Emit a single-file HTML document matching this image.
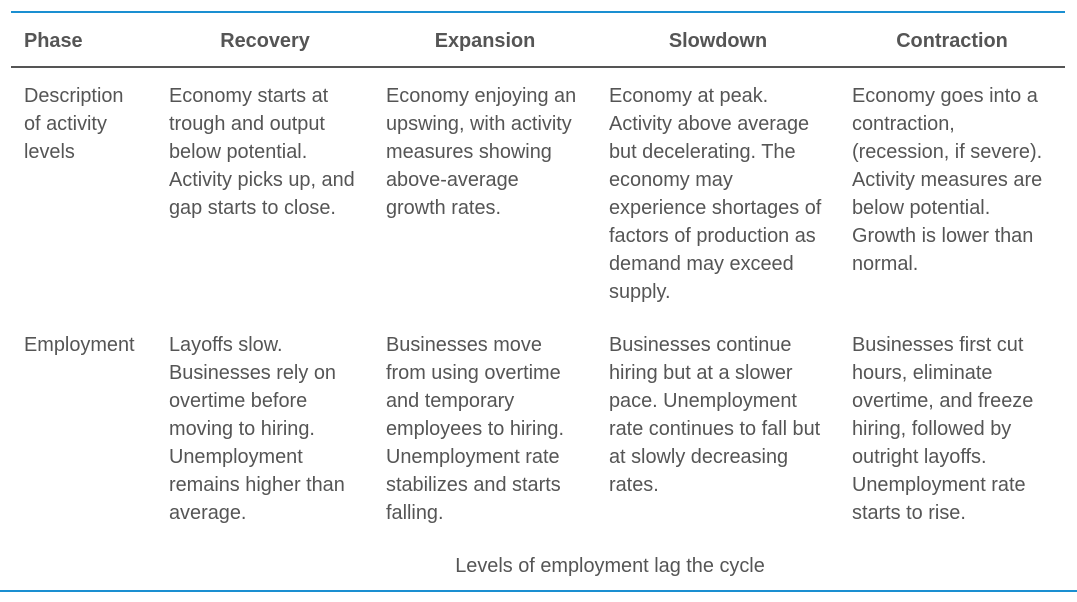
<!DOCTYPE html>
<html><head><meta charset="utf-8"><style>
body{margin:0;width:1077px;height:602px;background:#fff;position:relative;font-family:"Liberation Sans",sans-serif;color:#555;overflow:hidden}
.a{position:absolute;font-size:19.9px;line-height:28px;white-space:nowrap}
.h{font-weight:bold;top:27px}
.c{text-align:center}
.ln{position:absolute}
</style></head><body>
<div class="ln" style="left:11px;top:11px;width:1054px;height:2px;background:#1a8fd1"></div>
<div class="ln" style="left:11px;top:66px;width:1054px;height:2px;background:#555"></div>
<div class="ln" style="left:0;top:590px;width:1077px;height:2px;background:#1a8fd1"></div>

<div class="a h" style="left:24px">Phase</div>
<div class="a h c" style="left:165px;width:200px">Recovery</div>
<div class="a h c" style="left:385px;width:200px">Expansion</div>
<div class="a h c" style="left:618px;width:200px">Slowdown</div>
<div class="a h c" style="left:852px;width:200px">Contraction</div>

<div class="a" style="left:24px;top:82px">Description<br>of activity<br>levels</div>
<div class="a" style="left:169px;top:82px">Economy starts at<br>trough and output<br>below potential.<br>Activity picks up, and<br>gap starts to close.</div>
<div class="a" style="left:386px;top:82px">Economy enjoying an<br>upswing, with activity<br>measures showing<br>above-average<br>growth rates.</div>
<div class="a" style="left:609px;top:82px">Economy at peak.<br>Activity above average<br>but decelerating. The<br>economy may<br>experience shortages of<br>factors of production as<br>demand may exceed<br>supply.</div>
<div class="a" style="left:852px;top:82px">Economy goes into a<br>contraction,<br>(recession, if severe).<br>Activity measures are<br>below potential.<br>Growth is lower than<br>normal.</div>

<div class="a" style="left:24px;top:331px">Employment</div>
<div class="a" style="left:169px;top:331px">Layoffs slow.<br>Businesses rely on<br>overtime before<br>moving to hiring.<br>Unemployment<br>remains higher than<br>average.</div>
<div class="a" style="left:386px;top:331px">Businesses move<br>from using overtime<br>and temporary<br>employees to hiring.<br>Unemployment rate<br>stabilizes and starts<br>falling.</div>
<div class="a" style="left:609px;top:331px">Businesses continue<br>hiring but at a slower<br>pace. Unemployment<br>rate continues to fall but<br>at slowly decreasing<br>rates.</div>
<div class="a" style="left:852px;top:331px">Businesses first cut<br>hours, eliminate<br>overtime, and freeze<br>hiring, followed by<br>outright layoffs.<br>Unemployment rate<br>starts to rise.</div>

<div class="a c" style="left:410px;width:400px;top:552px">Levels of employment lag the cycle</div>
</body></html>
